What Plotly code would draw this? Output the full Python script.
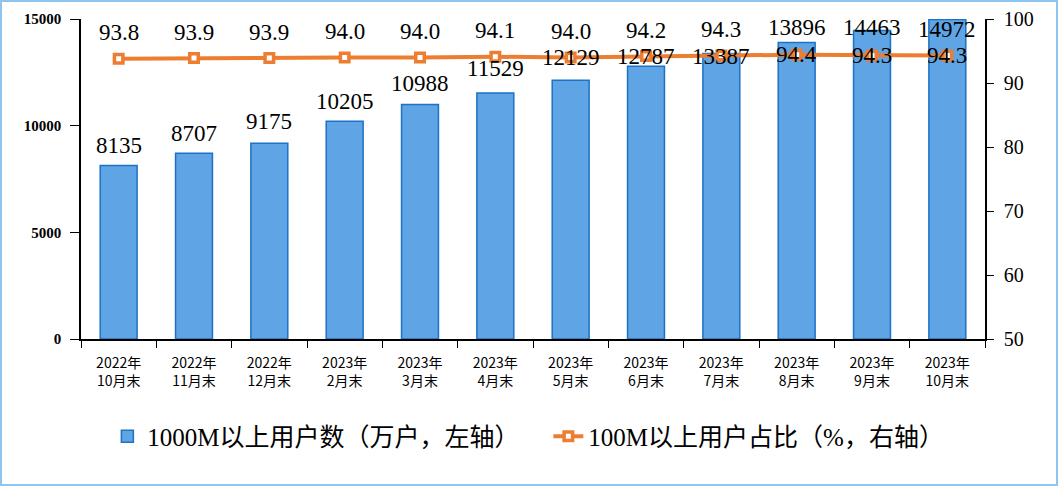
import plotly.graph_objects as go

categories = ["2022年<br>10月末", "2022年<br>11月末", "2022年<br>12月末", "2023年<br>2月末",
              "2023年<br>3月末", "2023年<br>4月末", "2023年<br>5月末", "2023年<br>6月末",
              "2023年<br>7月末", "2023年<br>8月末", "2023年<br>9月末", "2023年<br>10月末"]
users_1000m = [8135, 8707, 9175, 10205, 10988, 11529, 12129, 12787, 13387, 13896, 14463, 14972]
share_100m = [93.8, 93.9, 93.9, 94.0, 94.0, 94.1, 94.0, 94.2, 94.3, 94.4, 94.3, 94.3]
left_ticks = [0, 5000, 10000, 15000]
right_ticks = [50, 60, 70, 80, 90, 100]

# label offsets (pixels) as placed in the reference
bar_label_shift = [20, 20, 22, 20, 21, 25, 23, 10, -3, 15, 3, -10]
line_label_shift = [26, 26, 26, 26, 26, 26, 26, 26, 26, 0, 0, 0]

serif = "Liberation Serif, Times New Roman, Noto Sans CJK SC, serif"

fig = go.Figure()
fig.add_trace(go.Bar(
    x=categories, y=users_1000m, name="1000M以上用户数（万户，左轴）",
    marker=dict(color="#5fa4e4", line=dict(color="#1d72c4", width=1.5)),
    width=0.49, yaxis="y",
))
fig.add_trace(go.Scatter(
    x=categories, y=share_100m, name="100M以上用户占比（%，右轴）",
    mode="lines+markers", yaxis="y2",
    line=dict(color="#ed7d31", width=4),
    marker=dict(symbol="square", size=8.5, color="white", line=dict(color="#ed7d31", width=3.5)),
))

annotations = []
for c, v, s in zip(categories, users_1000m, bar_label_shift):
    annotations.append(dict(x=c, y=v, xref="x", yref="y", text=str(v), showarrow=False,
                            yshift=s, font=dict(family=serif, size=23, color="black")))
for c, v, s in zip(categories, share_100m, line_label_shift):
    annotations.append(dict(x=c, y=v, xref="x", yref="y2", text=f"{v:.1f}", showarrow=False,
                            yshift=s, font=dict(family=serif, size=23, color="black")))

W, H = 1058, 486
ml, mr, mt, mb = 81, 73, 19, 147
pw, ph = W - ml - mr, H - mt - mb

fig.update_layout(
    width=W, height=H,
    margin=dict(l=ml, r=mr, t=mt, b=mb, autoexpand=False),
    paper_bgcolor="white", plot_bgcolor="white",
    showlegend=True,
    legend=dict(orientation="h", x=0.517, xanchor="center", y=-0.305, yanchor="middle",
                font=dict(family=serif, size=25, color="black"), itemwidth=30,
                entrywidth=396, entrywidthmode="pixels", traceorder="normal"),
    xaxis=dict(type="category", range=[-0.5, 11.5], showline=True, linecolor="black", linewidth=1.5,
               ticks="outside", tickson="boundaries", ticklen=7, tickcolor="black", tickwidth=1,
               showgrid=False, ticklabelstandoff=10,
               tickfont=dict(family="Noto Sans CJK SC, sans-serif", size=14, color="black")),
    yaxis=dict(range=[0, 15000], tickvals=left_ticks, tickformat="d", showline=True, linecolor="black",
               linewidth=1.5, ticks="outside", ticklen=9, tickcolor="black", showgrid=False, zeroline=False,
               tickfont=dict(family=serif, size=15, color="black", weight="bold"), ticklabelstandoff=6),
    yaxis2=dict(range=[50, 100], tickvals=right_ticks, overlaying="y", side="right", showline=True,
                linecolor="black", linewidth=1.5, ticks="outside", ticklen=7, tickcolor="black",
                showgrid=False, zeroline=False, tickfont=dict(family=serif, size=20, color="black"),
                ticklabelstandoff=6),
    annotations=annotations,
    shapes=[dict(type="rect", xref="paper", yref="paper",
                 x0=-(ml - 1) / pw, x1=1 + (mr - 1) / pw, y0=-(mb - 1) / ph, y1=1 + (mt - 1) / ph,
                 line=dict(color="#8ec5f0", width=2), fillcolor="rgba(0,0,0,0)", layer="below")],
)

fig.write_html("out.html", config={"displayModeBar": False},
               post_script="document.body.style.margin='0px';document.body.style.overflow='hidden';")
